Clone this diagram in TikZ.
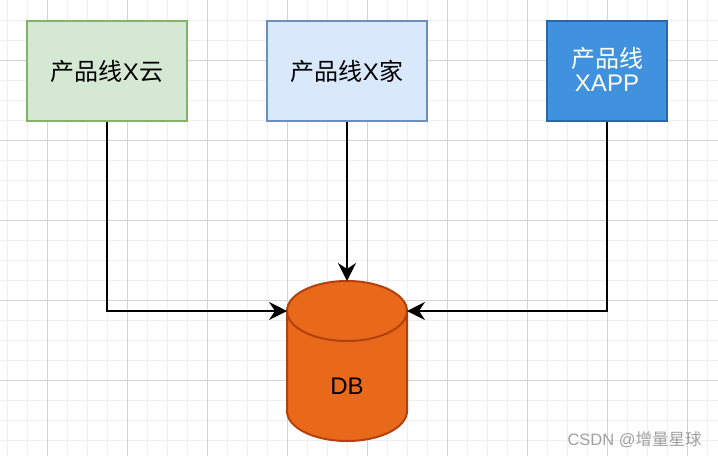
\documentclass[tikz,border=0pt]{standalone}
\usepackage{fontspec}
\setmainfont{Liberation Sans}
\newfontfamily\cjk{Noto Sans CJK SC}
\usetikzlibrary{positioning}
\usetikzlibrary{arrows.meta}
\usepackage{xcolor}
\definecolor{gridminor}{HTML}{EFEFEF}
\definecolor{gridmajor}{HTML}{D3D3D3}
\definecolor{greenfill}{HTML}{D5E8D4}
\definecolor{greenline}{HTML}{82B366}
\definecolor{bluefill}{HTML}{DAE8FC}
\definecolor{blueline}{HTML}{6C8EBF}
\definecolor{appfill}{HTML}{4192DE}
\definecolor{appline}{HTML}{2A66AD}
\definecolor{dbfill}{HTML}{E9691A}
\definecolor{dbline}{HTML}{B4400F}
\definecolor{markgray}{HTML}{A0A0A0}
\tikzset{
	box/.style={rectangle, draw, line width=2pt, minimum width=160pt, minimum height=100pt, inner sep=0pt, align=center, font=\fontsize{24}{24}\selectfont},
	dbframe/.style={rectangle, minimum width=120pt, minimum height=160pt, inner sep=0pt, outer sep=0pt},
	dbshape/.style={draw=dbline, fill=dbfill, line width=2pt},
	rim/.style={x radius=60pt, y radius=30pt},
	link/.style={-{Stealth[length=18pt, width=18pt, inset=6pt]}, line width=2pt},
	gridline/.style={line width=1pt}
}

\begin{document}
\begin{tikzpicture}[x=1pt, y=-1pt]
	% Background grid
	\fill[white] (0,0) rectangle (718,456);
	\useasboundingbox (0,0) rectangle (718,456);
	\foreach \x in {7,27,...,707} \draw[gridline, gridminor] (\x,0) -- (\x,456);
	\foreach \y in {20,40,...,440} \draw[gridline, gridminor] (0,\y) -- (718,\y);
	\foreach \x in {47,127,...,687} \draw[gridline, gridmajor] (\x,0) -- (\x,456);
	\foreach \y in {60,140,...,380} \draw[gridline, gridmajor] (0,\y) -- (718,\y);
	
	% Products
	\node[box, draw=greenline, fill=greenfill] (cloud) at (107,71) {{\cjk 产品线}X{\cjk 云}};
	\node[box, draw=blueline, fill=bluefill] (home) at (347,71) {{\cjk 产品线}X{\cjk 家}};
	\node[box, draw=appline, fill=appfill, minimum width=120pt, text=white] (app) at (607,71) {{\cjk 产品线}\\XAPP\rule[-4pt]{0pt}{4pt}};
	
	% Database
	\node[dbframe] (db) at (347,361) {};
	\coordinate (dbleft) at ([yshift=-30pt]db.north west);
	\coordinate (dbright) at ([yshift=-30pt]db.north east);
	\path[dbshape] (dbleft) -- ([yshift=30pt]db.south west) arc[start angle=180, end angle=360, rim] -- (dbright) arc[start angle=0, end angle=180, rim] -- cycle;
	\draw[dbshape, fill=none] (dbleft) arc[start angle=180, end angle=360, rim];
	\node[font=\fontsize{24}{24}\selectfont] (dblabel) at ([yshift=-25pt]db.center) {DB};
	
	\draw[link] (cloud.south) |- (dbleft);
	\draw[link] (home.south) -- (db.north);
	\draw[link] (app.south) |- (dbright);
	
	\node[anchor=base west, text=markgray, font=\fontsize{16.5}{16.5}\selectfont] (mark) at (564,445) {CSDN @{\cjk 增量星球}};
\end{tikzpicture}
\end{document}
